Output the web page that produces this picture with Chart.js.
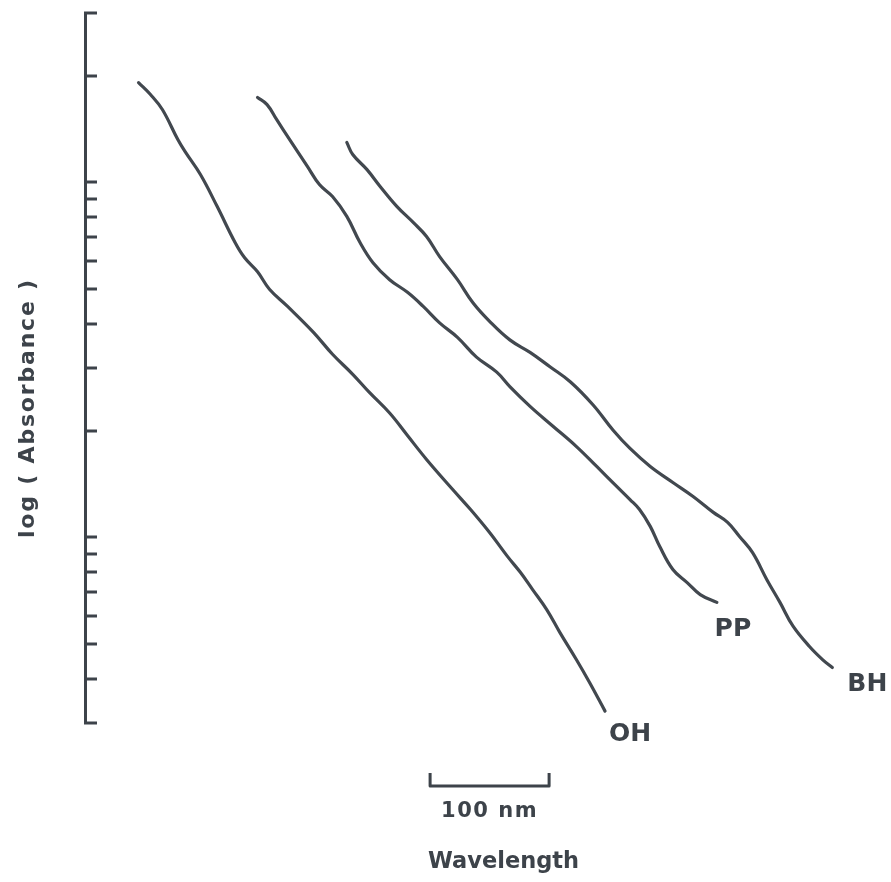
<!DOCTYPE html>
<html>
<head>
<meta charset="utf-8">
<script src="https://cdn.jsdelivr.net/npm/chart.js@4"></script>
<style>
  html, body { margin: 0; padding: 0; background: #ffffff; }
  #wrap { width: 891px; height: 882px; }
</style>
</head>
<body>
<div id="wrap"><canvas id="c" width="891" height="882"></canvas></div>
<script>
// ---- data (wavelength in nm, absorbance on a log axis) ----
const seriesNames = ['OH', 'PP', 'BH'];

const ohNm  = [245, 255, 265, 278, 284, 297, 311, 326, 334, 345, 355, 370, 392, 408, 425, 439, 456, 471, 487, 509, 524, 540, 555, 566, 576, 588, 599, 613, 624, 637];
const ohAbs = [9.55, 8.84, 8.02, 6.60, 6.11, 5.26, 4.28, 3.39, 3.07, 2.80, 2.50, 2.24, 1.89, 1.64, 1.44, 1.28, 1.12, 0.968, 0.829, 0.682, 0.599, 0.516, 0.442, 0.398, 0.357, 0.313, 0.270, 0.226, 0.195, 0.162];

const ppNm  = [345, 353, 361, 372, 387, 397, 408, 420, 431, 442, 456, 471, 484, 498, 513, 529, 546, 557, 574, 593, 613, 630, 647, 658, 666, 675, 683, 694, 706, 717, 731];
const ppAbs = [8.67, 8.28, 7.52, 6.60, 5.54, 4.93, 4.56, 4.01, 3.39, 2.97, 2.66, 2.45, 2.24, 2.01, 1.83, 1.61, 1.46, 1.33, 1.17, 1.03, 0.901, 0.792, 0.695, 0.639, 0.599, 0.537, 0.471, 0.406, 0.373, 0.345, 0.328];

const bhNm  = [420, 425, 437, 448, 462, 476, 487, 498, 513, 526, 540, 557, 574, 591, 608, 627, 644, 658, 675, 694, 711, 728, 740, 750, 761, 773, 784, 795, 809, 820, 828];
const bhAbs = [6.48, 5.99, 5.43, 4.87, 4.28, 3.85, 3.52, 3.09, 2.66, 2.29, 2.03, 1.80, 1.66, 1.51, 1.37, 1.18, 1.00, 0.890, 0.792, 0.714, 0.652, 0.588, 0.551, 0.503, 0.453, 0.380, 0.328, 0.281, 0.246, 0.226, 0.215];

// log-axis tick values (absorbance)
const yTickValues = [0.15, 0.2, 0.25, 0.3, 0.35, 0.4, 0.45, 0.5, 1, 1.5, 2, 2.5, 3, 3.5, 4, 4.5, 5, 10, 15];
const yRange = [0.15, 15];
const xRange = [200, 850];

// scale bar (nm) and texts
const scaleBarNm = [490, 590];
const scaleBarLabel = '100 nm';
const xTitle = 'Wavelength';
const yTitle = 'log ( Absorbance )';

// ---- styles ----
const INK = '#3d434a';
const LINE = '#42484f';
const FONT = '"DejaVu Sans", sans-serif';
const labelOffsets = [[25, 23], [16, 27], [35, 17]];

function pts(xs, ys) { return xs.map((v, i) => ({ x: v, y: ys[i] })); }

const decor = {
  id: 'decor',
  afterDraw(chart) {
    const { ctx, chartArea, scales: { x, y } } = chart;
    ctx.save();
    // inward tick marks on the y axis
    ctx.strokeStyle = INK;
    ctx.lineWidth = 3;
    ctx.lineCap = 'butt';
    y.ticks.forEach(t => {
      const py = Math.round(y.getPixelForValue(t.value));
      ctx.beginPath();
      ctx.moveTo(chartArea.left - 1, py);
      ctx.lineTo(chartArea.left + 12, py);
      ctx.stroke();
    });

    // curve end labels
    ctx.fillStyle = INK;
    ctx.font = 'bold 25px ' + FONT;
    ctx.textAlign = 'center';
    ctx.textBaseline = 'middle';
    chart.data.datasets.forEach((ds, i) => {
      const meta = chart.getDatasetMeta(i);
      const last = meta.data[meta.data.length - 1];
      ctx.fillText(ds.label, last.x + labelOffsets[i][0], last.y + labelOffsets[i][1]);
    });

    // scale bar
    const bx0 = x.getPixelForValue(scaleBarNm[0]);
    const bx1 = x.getPixelForValue(scaleBarNm[1]);
    const by = chartArea.bottom + 63;
    ctx.lineWidth = 3;
    ctx.lineJoin = 'round';
    ctx.beginPath();
    ctx.moveTo(bx0, by - 13);
    ctx.lineTo(bx0, by);
    ctx.lineTo(bx1, by);
    ctx.lineTo(bx1, by - 13);
    ctx.stroke();

    ctx.font = 'bold 21px ' + FONT;
    ctx.letterSpacing = '1.5px';
    ctx.fillText(scaleBarLabel, (bx0 + bx1) / 2, chartArea.bottom + 89);

    ctx.font = 'bold 22.5px ' + FONT;
    ctx.letterSpacing = '0px';
    ctx.fillText(xTitle, (bx0 + bx1) / 2 + 14, chartArea.bottom + 139);

    // y title
    ctx.save();
    ctx.translate(chartArea.left - 57, (chartArea.top + chartArea.bottom) / 2 + 40);
    ctx.rotate(-Math.PI / 2);
    ctx.font = 'bold 22px ' + FONT;
    ctx.letterSpacing = '1.8px';
    ctx.fillText(yTitle, 0, 0);
    ctx.restore();

    ctx.restore();
  }
};

new Chart(document.getElementById('c'), {
  type: 'line',
  data: {
    datasets: [
      { label: seriesNames[0], data: pts(ohNm, ohAbs) },
      { label: seriesNames[1], data: pts(ppNm, ppAbs) },
      { label: seriesNames[2], data: pts(bhNm, bhAbs) }
    ].map(d => Object.assign(d, {
      borderColor: LINE,
      borderWidth: 3.2,
      pointRadius: 0,
      tension: 0.4,
      fill: false,
      borderCapStyle: 'round',
      borderJoinStyle: 'round'
    }))
  },
  options: {
    responsive: false,
    animation: false,
    devicePixelRatio: 1,
    layout: { padding: { left: 85, right: 32.5, top: 13, bottom: 159 } },
    plugins: { legend: { display: false }, tooltip: { enabled: false } },
    scales: {
      x: {
        type: 'linear',
        min: xRange[0],
        max: xRange[1],
        display: false
      },
      y: {
        type: 'logarithmic',
        min: yRange[0],
        max: yRange[1],
        bounds: 'data',
        afterBuildTicks: s => { s.ticks = yTickValues.map(v => ({ value: v })); },
        afterFit: s => { s.width = 0; },
        ticks: { display: false },
        grid: { display: true, drawOnChartArea: false, drawTicks: false },
        border: { display: true, color: INK, width: 3 }
      }
    }
  },
  plugins: [decor]
});
</script>
</body>
</html>
